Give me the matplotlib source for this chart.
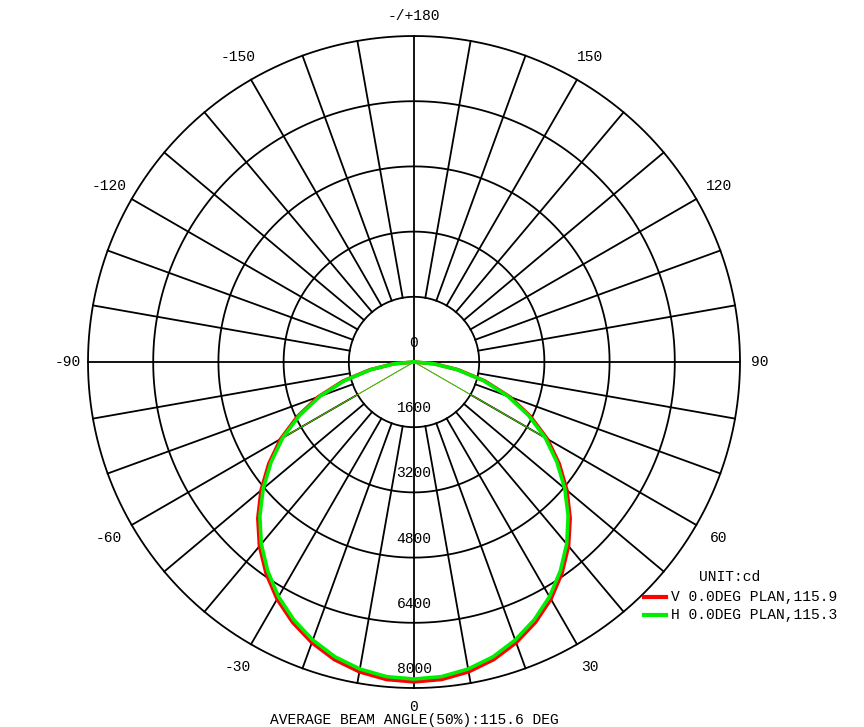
import numpy as np
import matplotlib
matplotlib.use("Agg")
import matplotlib.pyplot as plt

angles = [0,5,10,15,20,25,30,35,40,45,50,55,60,65,70,75,80,85,90]
v_vals = [7850,7820,7720,7560,7330,7050,6720,6330,5900,5420,4900,4350,3780,3150,2500,1800,1100,500,0]
h_vals = [7780,7750,7650,7490,7260,6980,6650,6260,5830,5350,4830,4280,3720,3100,2450,1760,1070,480,0]
ring_vals = [1600,3200,4800,6400,8000]
ring_labels = ["1600","3200","4800","6400","8000"]
ang_ticks = [-150,-120,-90,-60,-30,0,30,60,90,120,150,180]
ang_labels = ["-150","-120","-90","-60","-30","0","30","60","90","120","150","-/+180"]

S = 8000/326.0
fig = plt.figure(figsize=(8.64,7.27), dpi=100)
ax = fig.add_axes([0,0,1,1])
ax.set_xlim(-414*S, 450*S); ax.set_ylim(-365*S, 362*S)
ax.axis('off')
font = dict(family=['Liberation Mono','DejaVu Sans Mono'], fontsize=10.5)

def xy(theta_deg, r):
    t = np.radians(theta_deg)
    return np.asarray(r)*np.sin(t), -np.asarray(r)*np.cos(t)

tt = np.linspace(0, 360, 721)
for r in ring_vals:
    x, y = xy(tt, r)
    ax.plot(x, y, color='black', lw=1.3)
for a in range(0, 360, 10):
    if a % 90 == 0:
        x, y = xy(a, [0, 8000])
    else:
        x, y = xy(a, [1600, 8000])
    ax.plot(x, y, color='black', lw=1.3)

for r, lab in zip([0]+ring_vals, ["0"]+ring_labels):
    ax.text(0, -r + 19*S, lab, ha='center', va='center', **font)
for a, lab in zip(ang_ticks, ang_labels):
    rr = 346 if a % 180 == 0 or abs(a) == 90 else 352
    x, y = xy(a, rr*S)
    if a == 0:
        y = -345*S
    ax.text(x, y, lab, ha='center', va='center', **font)

a_full = np.array([-a for a in angles[::-1]] + angles[1:])
for vals, col in [(v_vals, '#ff0000'), (h_vals, '#00ee00')]:
    vv = np.array(vals[::-1] + vals[1:])
    x, y = xy(a_full, vv)
    ax.plot(x, y, color=col, lw=2.6)
    i60 = angles.index(60)
    for s in (-1, 1):
        x, y = xy(s*60, [0, vals[i60]])
        ax.plot(x, y, color=col, lw=0.6)

def px(xp, yp):
    return (xp-414)*S, (362-yp)*S
ax.text(*px(730, 577), "UNIT:cd", ha='center', va='center', **font)
for yp, col, lab in [(597, '#ff0000', "V 0.0DEG PLAN,115.9"), (615, '#00ee00', "H 0.0DEG PLAN,115.3")]:
    x0, y0 = px(644, yp); x1, _ = px(666, yp)
    ax.plot([x0, x1], [y0, y0], color=col, lw=3)
    ax.text(*px(671, yp), lab, ha='left', va='center', **font)
ax.text(*px(414, 720), "AVERAGE BEAM ANGLE(50%):115.6 DEG", ha='center', va='center', **font)
fig.savefig("out.png", dpi=100)
